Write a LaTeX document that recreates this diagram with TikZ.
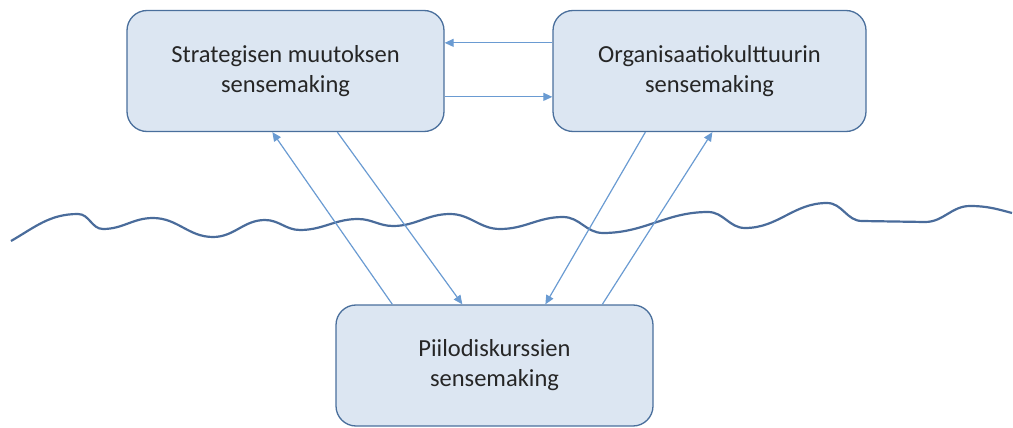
\documentclass[tikz,border=0pt]{standalone}
\usepackage{fontspec}
\setmainfont{Carlito}
\usetikzlibrary{arrows.meta}
\definecolor{boxfill}{HTML}{DCE6F2}
\definecolor{boxline}{HTML}{4A6F9C}
\definecolor{linkblue}{HTML}{6A9BD2}
\definecolor{wavecol}{HTML}{4A6C9B}
\tikzset{
  smbox/.style={draw=boxline, fill=boxfill, line width=1.3pt, rounded corners=20pt,
    minimum width=317pt, minimum height=121pt, align=center, text=black!85,
    font=\fontsize{24.5}{30}\selectfont},
  link/.style={draw=linkblue, line width=1.2pt, -{Triangle[length=9pt,width=8pt]}},
  wv/.style={out=0, in=180}
}

\begin{document}
\begin{tikzpicture}[x=1pt,y=-1pt]
\useasboundingbox (0,0) rectangle (1013,428);
\node[smbox] (strat) at (285.5,71) {Strategisen muutoksen\\sensemaking};
\node[smbox, minimum width=313pt] (orgk) at (709.5,71) {Organisaatiokulttuurin\\sensemaking};
\node[smbox] (piilo) at (494.5,365.5) {Piilodiskurssien\\sensemaking};
% the surface line
\draw[wavecol, line width=2.2pt] (11,241) to[out=30, in=180] (78,214)
  to[wv] (103,229) to[wv] (153,218) to[wv] (213,237) to[wv] (265,220)
  to[wv] (300,230) to[wv] (358,219) to[wv] (393,226) to[wv] (450,214)
  to[wv] (500,229) to[wv] (563,217) to[wv] (603,233) to[wv] (708,212)
  to[wv] (745,228) to[wv] (827,203) to[wv] (862,221) -- (925,222)
  to[wv] (970,206) to[out=0, in=165] (1012,213);
% links
\draw[link] ([yshift=-33pt]orgk.north west) -- ([yshift=-33pt]strat.north east);
\draw[link] ([yshift=-87pt]strat.north east) -- ([yshift=-87pt]orgk.north west);
\draw[link] ([xshift=57pt]piilo.north west) -- ([xshift=146pt]strat.south west);
\draw[link] ([xshift=211pt]strat.south west) -- ([xshift=127pt]piilo.north west);
\draw[link] ([xshift=93pt]orgk.south west) -- ([xshift=210pt]piilo.north west);
\draw[link] ([xshift=267pt]piilo.north west) -- ([xshift=160pt]orgk.south west);
\end{tikzpicture}
\end{document}
